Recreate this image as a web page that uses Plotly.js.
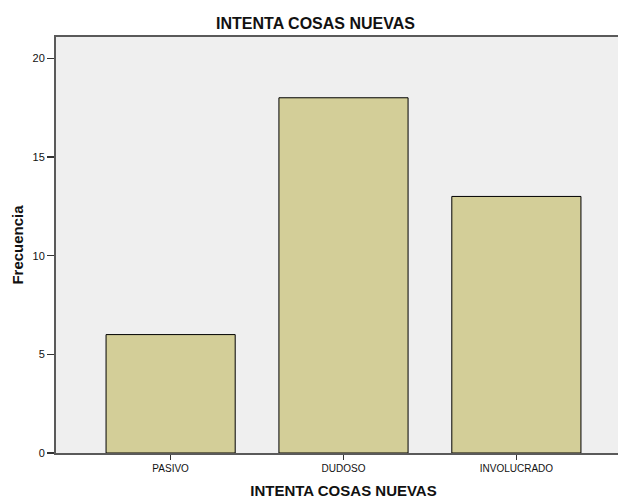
<!DOCTYPE html>
<html>
<head>
<meta charset="utf-8">
<script src="https://cdn.plot.ly/plotly-3.0.1.min.js"></script>
<style>
html,body{margin:0;padding:0;overflow:hidden;background:#fff;width:618px;height:499px;}
#chart{width:631px;height:499px;}
</style>
</head>
<body>
<div id="chart"></div>
<script>
const categories = ["PASIVO", "DUDOSO", "INVOLUCRADO"];
const frecuencia = [6, 18, 13];
const yTickVals = [0, 5, 10, 15, 20];
const chartTitle = "INTENTA COSAS NUEVAS";
const xTitle = "INTENTA COSAS NUEVAS";
const yTitle = "Frecuencia";

const font = "Liberation Sans, Arial, sans-serif";

const trace = {
  type: "bar",
  x: [0, 1, 2],
  y: frecuencia,
  width: 0.747,
  marker: {color: "#D3CE98", line: {color: "#000000", width: 1}},
  hoverinfo: "none"
};

const layout = {
  width: 631,
  height: 499,
  autosize: false,
  margin: {l: 56, r: 0, t: 37, b: 46, pad: 0},
  paper_bgcolor: "#ffffff",
  plot_bgcolor: "#EFEFEF",
  showlegend: false,
  title: {
    text: chartTitle,
    font: {family: font, size: 16, color: "#111", weight: "bold"},
    x: 0.5, xref: "container", xanchor: "center",
    y: 1 - 23/499, yref: "container", yanchor: "middle"
  },
  xaxis: {
    range: [-0.663, 2.663],
    tickvals: [0, 1, 2],
    ticktext: categories,
    tickfont: {family: font, size: 10, color: "#111"},
    ticks: "outside", ticklen: 5, tickwidth: 1, tickcolor: "#333",
    showline: true, linecolor: "#5a5a5a", linewidth: 2, mirror: true,
    showgrid: false, zeroline: false, fixedrange: true,
    title: {text: xTitle, font: {family: font, size: 15, color: "#111", weight: "bold"}, standoff: 12}
  },
  yaxis: {
    range: [0, 21.08],
    tickvals: yTickVals,
    ticktext: yTickVals.map(String),
    tickfont: {family: font, size: 11, color: "#111"},
    ticks: "outside", ticklen: 7, tickwidth: 1.5, tickcolor: "#333",
    showline: true, linecolor: "#5a5a5a", linewidth: 2, mirror: true,
    showgrid: false, zeroline: false, fixedrange: true,
    title: {text: yTitle, font: {family: font, size: 15, color: "#111", weight: "bold"}, standoff: 5}
  }
};

Plotly.newPlot("chart", [trace], layout, {displayModeBar: false, staticPlot: true});
</script>
</body>
</html>
